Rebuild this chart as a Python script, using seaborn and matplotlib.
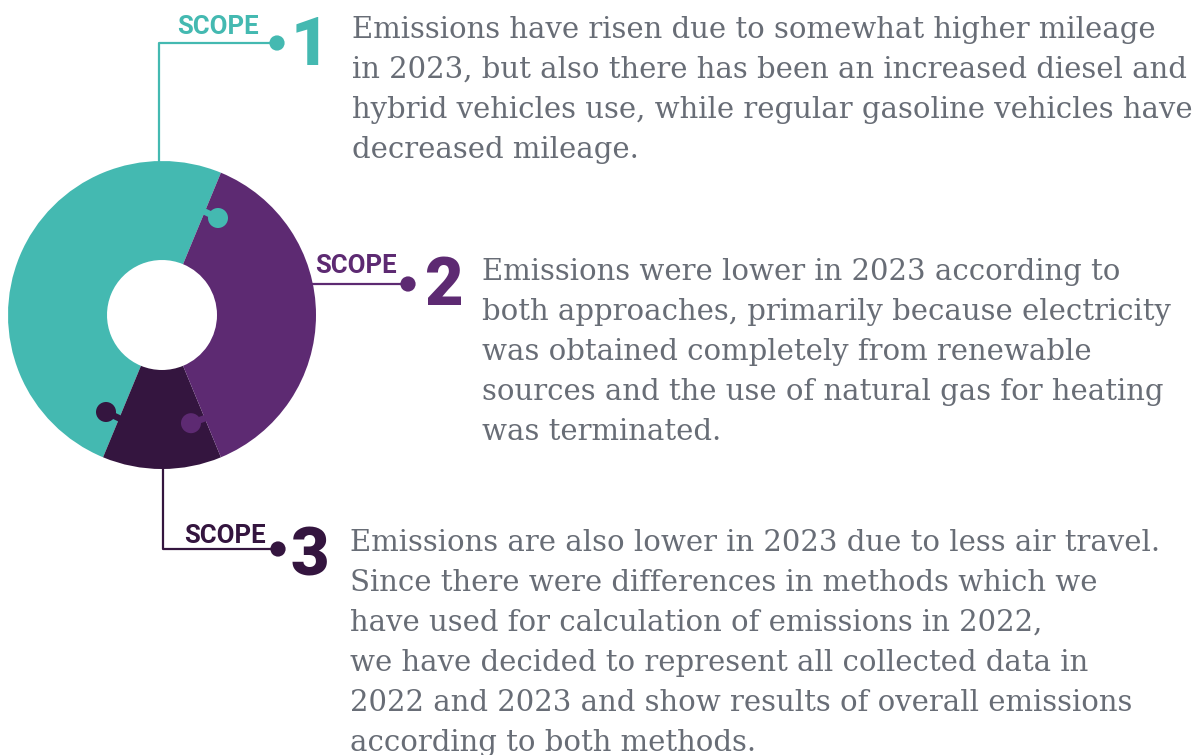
"""Scope 1/2/3 emissions donut with puzzle tabs and notes."""

import numpy as np
import matplotlib
matplotlib.use("Agg")
import matplotlib.pyplot as plt
import seaborn as sns
from matplotlib.patches import Circle, Polygon


SCOPES = ["1", "2", "3"]
SHARES = [50.0, 37.5, 12.5]
COLORS = ["#44b9b1", "#5d2a72", "#34153f"]

NOTE_1 = [
    "Emissions have risen due to somewhat higher mileage",
    "in 2023, but also there has been an increased diesel and",
    "hybrid vehicles use, while regular gasoline vehicles have",
    "decreased mileage.",
]
NOTE_2 = [
    "Emissions were lower in 2023 according to",
    "both approaches, primarily because electricity",
    "was obtained completely from renewable",
    "sources and the use of natural gas for heating",
    "was terminated.",
]
NOTE_3 = [
    "Emissions are also lower in 2023 due to less air travel.",
    "Since there were differences in methods which we",
    "have used for calculation of emissions in 2022,",
    "we have decided to represent all collected data in",
    "2022 and 2023 and show results of overall emissions",
    "according to both methods.",
]
NOTES = [NOTE_1, NOTE_2, NOTE_3]

# layout, in pixels (y grows downward)
W, H = 1201, 755
CX, CY = 162, 315
R_OUT, R_IN = 154, 55
START = 67.5          # visual angle where scope 1 starts (ccw)
PIE_ORDER = [0, 2, 1]  # ccw order round the ring
TEXT_GREY = "#686d76"

sns.set_theme(style="white")
plt.rcParams["font.family"] = ["Roboto", "DejaVu Sans"]

fig = plt.figure(figsize=(W / 100, H / 100), dpi=100)
ax = fig.add_axes([0, 0, 1, 1])


def polar(r, deg):
    a = np.deg2rad(deg)
    return CX + r * np.cos(a), CY - r * np.sin(a)


# y axis is inverted, so draw clockwise in data to get ccw on screen
ax.pie(
    [SHARES[i] for i in PIE_ORDER],
    colors=[COLORS[i] for i in PIE_ORDER],
    startangle=-START,
    counterclock=False,
    center=(CX, CY),
    radius=R_OUT,
    wedgeprops=dict(width=R_OUT - R_IN, linewidth=0, antialiased=True),
)

# puzzle tabs: each piece pokes into the piece before it
r_tab, off, knob, neck = 112, 7.5, 10, 6.5
angle = START
for i in PIE_ORDER:
    cx_t, cy_t = polar(r_tab, angle - off)
    bx, by = polar(r_tab, angle + 1.5)
    d = np.array([cx_t - bx, cy_t - by])
    n = np.array([-d[1], d[0]]) / np.hypot(*d) * neck / 2
    ax.add_patch(Polygon([(bx + n[0], by + n[1]), (cx_t + n[0], cy_t + n[1]),
                          (cx_t - n[0], cy_t - n[1]), (bx - n[0], by - n[1])],
                         closed=True, fc=COLORS[i], lw=0, zorder=3))
    ax.add_patch(Circle((cx_t, cy_t), knob, fc=COLORS[i], lw=0, zorder=3))
    angle += SHARES[i] * 3.6

# leader lines
lw = 1.6
y1 = 43
ax.plot([CX - 3, CX - 3, 277], [CY - R_OUT + 2, y1, y1], color=COLORS[0], lw=lw)
y2 = 284
x2 = CX + np.sqrt(R_OUT ** 2 - (CY - y2) ** 2)
ax.plot([x2 - 2, 408], [y2, y2], color=COLORS[1], lw=lw)
y3 = 549
ax.plot([CX + 1, CX + 1, 278], [CY + R_OUT - 2, y3, y3], color=COLORS[2], lw=lw)
sns.scatterplot(x=[277, 408, 278], y=[y1, y2, y3], hue=SCOPES,
                palette=COLORS, s=120, linewidth=0, legend=False, ax=ax, zorder=4)

# scope labels
label_pos = [(218, 34), (356, 273), (225, 543)]
digit_pos = [(310, 65), (444, 305), (310, 575)]
for k in range(3):
    ax.text(*label_pos[k], "SCOPE", color=COLORS[k], fontsize=18.5,
            fontweight="bold", ha="center", va="baseline")
    ax.text(*digit_pos[k], SCOPES[k], color=COLORS[k], fontsize=48,
            fontweight="heavy", ha="center", va="baseline")

# body text, sized so the widest line matches the reference width
probe = ax.text(0, 0, NOTE_1[2], fontsize=20, family="DejaVu Serif")
fig.canvas.draw()
body_size = 20 * 840 / probe.get_window_extent().width
probe.remove()

note_pos = [(352, 38), (482, 280), (350, 551)]
for (x0, y0), lines in zip(note_pos, NOTES):
    for j, line in enumerate(lines):
        ax.text(x0, y0 + 40 * j, line, fontsize=body_size, family="DejaVu Serif",
                color=TEXT_GREY, ha="left", va="baseline")

ax.set_xlim(0, W)
ax.set_ylim(H, 0)
ax.set_aspect("equal")
ax.axis("off")

fig.savefig("out.png", dpi=100, facecolor="white")
plt.close(fig)
